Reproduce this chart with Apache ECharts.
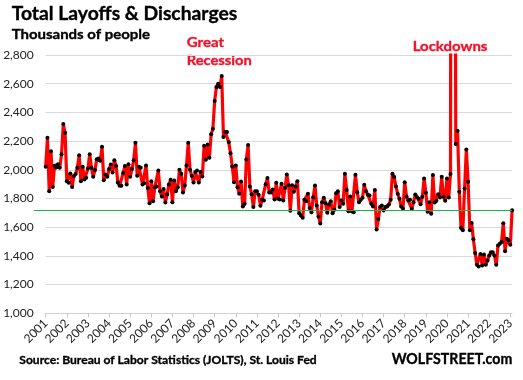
<!DOCTYPE html>
<html><head><meta charset="utf-8">
<script src="https://cdn.jsdelivr.net/npm/echarts@6/dist/echarts.min.js"></script>
<style>html,body{margin:0;padding:0;background:#fff}#c{width:523px;height:380px}</style>
</head><body><div id="c"></div>
<script>
// Monthly total layoffs & discharges (thousands), Dec 2000 .. Jan 2023
const layoffsDec2000toMay2005 = [2021,2223,1851,2130,1881,2028,2016,2039,2014,2109,
  2319,2258,1921,1909,1974,1881,1956,1970,2014,2102,
  1921,2021,1932,1944,2009,2109,2014,1951,1998,2074,
  2079,2063,2160,1928,1967,1951,2005,2037,1981,2067,
  2026,1912,1888,1888,1977,2026,1898,2039,1951,2005,
  2067,2188,1958,2021];
const layoffsJun2005toNov2009 = [2014,1898,1907,2030,1874,1767,1921,1781,1879,1884,
  1995,1851,1814,1867,1772,1828,1898,1930,1774,1926,
  1851,1879,2000,1972,1842,1891,2030,2188,2000,1958,
  1912,1984,1995,1912,1984,1953,2167,2070,2177,2084,
  2247,2286,2479,2577,2600,2577,2653,2228,2263,2263,
  2193,2116,2023,1914];
const layoffsDec2009toApr2014 = [2030,1879,1833,1919,1744,1763,2072,2173,1884,1830,
  1740,1851,1851,1826,1749,1791,1786,1900,1942,1842,
  1842,1863,1793,1909,1798,1793,1902,1786,1874,1967,
  1893,1714,1893,1847,1884,1921,1698,1681,1665,1791,
  1781,1833,1733,1705,1809,1891,1751,1674,1626,1774,
  1805,1767,1700];
const layoffsMay2014toAug2018 = [1758,1781,1698,1721,1837,1851,1740,1786,1763,1972,
  1860,1712,1814,1709,1705,1965,1844,1774,1791,1805,
  1895,1851,1826,1821,1763,1744,1860,1584,1658,1740,
  1751,1716,1740,1744,1758,1791,1972,1949,1884,1833,
  1798,1744,1728,1914,1814,1786,1791,1728,1774,1828,
  1809,1798];
const layoffsSep2018toJan2023 = [1760,1812,1940,1840,1707,1774,1693,1963,1772,1784,
  1830,1807,1951,1812,1784,1940,1807,1970,11500,7700,
  2180,2272,1847,1595,1579,1870,2142,1916,1579,1630,
  1516,1421,1338,1326,1414,1333,1410,1338,1368,1403,
  1426,1426,1403,1338,1473,1484,1496,1628,1433,1519,
  1507,1477,1718];
const yearLabels = ['2001','2002','2003','2004','2005','2006','2007','2008','2009','2010','2011','2012',
  '2013','2014','2015','2016','2017','2018','2019','2020','2021','2022','2023'];
const yMin = 1000, yMax = 2800, yStep = 200;

const layoffs = [].concat(layoffsDec2000toMay2005, layoffsJun2005toNov2009, layoffsDec2009toApr2014,
  layoffsMay2014toAug2018, layoffsSep2018toJan2023);
const monthNames = ['Jan','Feb','Mar','Apr','May','Jun','Jul','Aug','Sep','Oct','Nov','Dec'];
const categories = layoffs.map((v, i) => {
  const m = (11 + i) % 12, y = 2000 + Math.floor((11 + i) / 12);
  return monthNames[m] + ' ' + y;
});
const lastIdx = layoffs.length - 1;
const lastVal = layoffs[lastIdx];

const FONT = 'Lato, "Noto Sans", sans-serif';
const cv = document.createElement('canvas').getContext('2d');
function fitScale(text, font, w) { cv.font = font; return w / cv.measureText(text).width; }
function txt(text, left, baseline, size, width, color) {
  const font = 'bold ' + size + 'px ' + FONT;
  return { type: 'text', x: left, y: baseline - 0.38 * size, scaleX: fitScale(text, font, width), scaleY: 1,
    silent: true,
    style: { text: text, font: font, fill: color, align: 'left', verticalAlign: 'middle',
      stroke: color, lineWidth: 0.35 } };
}

const chart = echarts.init(document.getElementById('c'), null, { renderer: 'canvas' });
chart.setOption({
  animation: false,
  backgroundColor: '#fff',
  grid: { left: 45.7, right: 10.9, top: 55, bottom: 66.7, containLabel: false, outerBoundsMode: 'none' },
  xAxis: {
    type: 'category', data: categories, boundaryGap: false,
    axisLine: { lineStyle: { color: '#d0d0d0', width: 1 } },
    axisTick: { show: true, length: 4, interval: (i) => i % 12 === 0, lineStyle: { color: '#c8c8c8' } },
    axisLabel: { interval: (i) => i % 12 === 0, rotate: 45, margin: 8, color: '#222',
      fontFamily: FONT, fontSize: 12,
      formatter: (v, i) => (i % 12 === 0 ? yearLabels[i / 12] : '') },
    splitLine: { show: false }
  },
  yAxis: {
    type: 'value', min: yMin, max: yMax, interval: yStep,
    axisLine: { show: false }, axisTick: { show: false },
    axisLabel: { margin: 12, color: '#222', fontFamily: FONT, fontSize: 12,
      formatter: (v) => v.toLocaleString('en-US') },
    splitLine: { lineStyle: { color: '#d9d9d9', width: 1 } }
  },
  series: [{
    type: 'line', data: layoffs, clip: true,
    showAllSymbol: true, symbol: 'circle', symbolSize: 4,
    itemStyle: { color: '#000', borderWidth: 0 },
    lineStyle: { color: '#ff0000', width: 3.2 },
    emphasis: { disabled: true },
    markLine: {
      silent: true, symbol: ['none', 'none'], label: { show: false },
      lineStyle: { color: '#1fb04a', width: 1.2, type: 'solid' },
      data: [[{ x: 34, yAxis: lastVal }, { xAxis: categories[lastIdx], yAxis: lastVal }]]
    },
    z: 3
  }],
  graphic: [
    txt('Total Layoffs & Discharges', 11.7, 20.7, 19, 225.5, '#000'),
    txt('Thousands of people', 11.7, 40.3, 14, 138.3, '#000'),
    txt('Great', 186.7, 48.3, 14, 37.3, '#f5102a'),
    txt('Recession', 186.7, 66, 14, 65, '#f5102a'),
    txt('Lockdowns', 412.7, 51.7, 14, 74.7, '#f5102a'),
    txt('Source: Bureau of Labor Statistics (JOLTS), St. Louis Fed', 19.3, 365, 12, 297.4, '#000'),
    txt('WOLFSTREET.com', 391.7, 365.3, 15, 120.6, '#000')
  ]
});
</script></body></html>
